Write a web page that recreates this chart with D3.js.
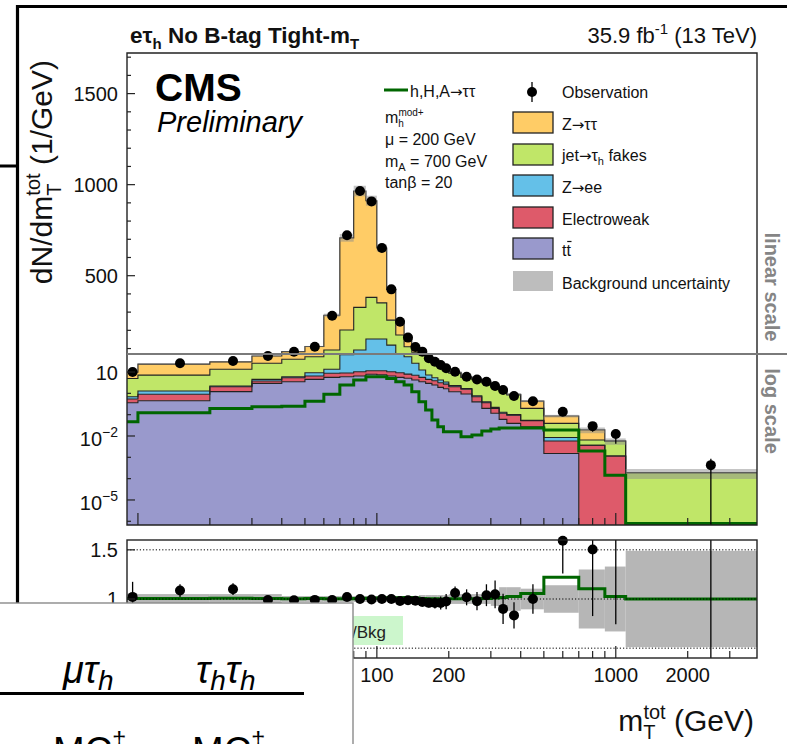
<!DOCTYPE html>
<html>
<head>
<meta charset="utf-8">
<script src="https://cdn.jsdelivr.net/npm/d3@7"></script>
<style>
  body { margin: 0; background: #fff; }
  svg { display: block; }
  text { font-family: "Liberation Sans", Arial, Helvetica, sans-serif; }
</style>
</head>
<body>
<svg id="chart" width="787" height="744"></svg>
<script>
// ---- m_T^tot binning (GeV) and per-GeV yields ----
const binEdges = [9, 10, 20, 30, 40, 50, 60, 70, 80, 90, 100, 110, 120, 130, 140, 150, 160, 170, 180, 190, 200,
                  225, 250, 275, 300, 325, 350, 400, 500, 700, 900, 1100, 3900];

const observed = [10, 25.6, 33, 56, 82, 110, 280, 722, 965, 908, 652, 425, 247, 160, 108, 83, 44, 30.5, 21.3, 15,
                  10.3, 6, 4.5, 3.5, 2.2, 1.43, 0.75, 0.43, 0.137, 0.029, 0.0123, 0.00043];
const observedRelErr = [0.15, 0.06, 0.055, 0.04, 0.035, 0.03, 0.02, 0.012, 0.01, 0.01, 0.012, 0.015, 0.02, 0.025, 0.03,
                  0.035, 0.048, 0.058, 0.07, 0.08, 0.062, 0.08, 0.094, 0.107, 0.135, 0.17, 0.16, 0.15, 0.21, 0.45, 0.65, 1.0];

const ttbar = [0.36, 0.45, 1.2, 2.95, 3.5, 4.5, 5.6, 6.0, 6.5, 7.8, 7.5, 6.5, 5.6, 5.1, 4.2, 3.5, 2.95, 2.45, 1.9, 1.65,
               1.19, 0.93, 0.40, 0.197, 0.116, 0.06, 0.039, 0.027, 0.0015, 0, 0, 0];
const electroweak = [0.18, 0.45, 0.84, 0.85, 1.9, 2.0, 3.1, 3.0, 3.8, 3.7, 4.0, 3.8, 3.7, 2.9, 2.8, 2.1, 1.55, 1.45, 1.25, 1.05,
               0.86, 0.62, 0.29, 0.163, 0.081, 0.056, 0.056, 0.025, 0.0043, 0.0037, 0.00115, 0];
const zee = [0.15, 0.38, 0.16, 0.7, 0.6, 2.8, 4.7, 56, 81.7, 140.5, 140.5, 108.7, 60.7, 44, 18.6, 6.8, 2.7, 1.5, 1.05, 0.7,
               0.25, 0.15, 0.08, 0.04, 0.023, 0.014, 0.005, 0.002, 0.0027, 0, 0, 0];
const fakes = [4.3, 5.9, 11.2, 21.1, 33.5, 42.7, 78.6, 137, 234, 229, 199, 137, 104, 58, 54, 52, 31.7, 22.6, 15.8, 10.5,
               6.6, 3.85, 3.55, 2.77, 1.75, 1.38, 0.75, 0.143, 0.0305, 0.0028, 0.00465, 0.00019];
const ztt = [4.8, 16.4, 16.6, 31, 43.5, 59, 191, 506, 639, 531, 301, 169, 78, 52, 30.4, 21.2, 6.9, 3.8, 2.2, 1.5,
               0.8, 0.35, 0.28, 0.2, 0.13, 0.08, 0.05, 0.233, 0.047, 0.0128, 0, 0];
// h,H,A -> tautau, m_h^mod+ with mu = 200 GeV, m_A = 700 GeV, tan(beta) = 20
const signal = [0.046, 0.123, 0.197, 0.235, 0.25, 0.43, 0.9, 2.45, 4.2, 6.0, 6.0, 5.0, 3.5, 2.45, 1.19, 0.4, 0.165, 0.056, 0.027, 0.0157,
               0.0157, 0.0092, 0.011, 0.017, 0.021, 0.024, 0.024, 0.024, 0.019, 0.002, 0.000146, 0];
// relative background uncertainty
const bkgUnc = [0.05, 0.05, 0.05, 0.05, 0.03, 0.03, 0.03, 0.03, 0.03, 0.03, 0.03, 0.03, 0.03, 0.03, 0.03, 0.04, 0.04, 0.04, 0.04, 0.04,
               0.05, 0.05, 0.05, 0.05, 0.07, 0.12, 0.12, 0.105, 0.14, 0.3, 0.33, 0.49];

const xTickLabels = [100, 200, 1000, 2000];
const yLinTickLabels = [500, 1000, 1500];
const yLogTickLabels = [[10, ""], [1e-2, "\u22122"], [1e-5, "\u22125"]];
const ratioGridLines = [0.5, 1, 1.5];
const ratioTickLabels = [1, 1.5];

// ---- layout ----
const svg = d3.select("#chart");
const L = 127, R = 757;
const linTop = 53, split = 354, logBot = 525, ratTop = 540, ratBot = 658;

const x = d3.scaleLog().domain([binEdges[0], binEdges[binEdges.length - 1]]).range([L, R]);
const yLin = d3.scaleLinear().domain([70, 1723]).range([split, linTop]);
const yLog = d3.scaleLog().domain([6.7e-7, 70]).range([logBot, split]);
const yRat = d3.scaleLinear().domain([0.4, 1.6]).range([ratBot, ratTop]);

const yLinF = v => yLin(Math.max(v, 60));
const yLogF = v => v > 0 ? yLog(Math.min(Math.max(v, 3e-7), 500)) : yLog(3e-7);

const keys = ["ttbar", "electroweak", "zee", "fakes", "ztt"];
const colors = { ttbar: "#9999cc", electroweak: "#de5a6a", zee: "#64c0e8", fakes: "#c0e668", ztt: "#ffcc66" };
const sigColor = "#006600";
const arrowFont = "'DejaVu Sans', sans-serif";

const bins = observed.map((o, i) => ({
  lo: binEdges[i], hi: binEdges[i + 1], obs: o, err: observedRelErr[i],
  ttbar: ttbar[i], electroweak: electroweak[i], zee: zee[i], fakes: fakes[i], ztt: ztt[i],
  sig: signal[i], unc: bkgUnc[i]
}));
const series = d3.stack().keys(keys)(bins);
bins.forEach((b, i) => { b.total = series[series.length - 1][i][1]; });

const defs = svg.append("defs");
function clip(id, x0, y0, w, h) {
  defs.append("clipPath").attr("id", id).append("rect").attr("x", x0).attr("y", y0).attr("width", w).attr("height", h);
  return "url(#" + id + ")";
}
const clipLin = clip("cLin", L, linTop, R - L, split - linTop);
const clipLog = clip("cLog", L, split, R - L, logBot - split);
const clipRat = clip("cRat", L, ratTop, R - L, ratBot - ratTop);

function stepPts(fn) {
  return bins.flatMap((b, i) => [[x(b.lo), ...fn(b, i)], [x(b.hi), ...fn(b, i)]]);
}

// ---- stacked histograms in the linear and log sections ----
function drawStack(yf, clipUrl) {
  const g = svg.append("g").attr("clip-path", clipUrl);
  series.forEach(s => {
    const pts = stepPts((b, i) => [s[i][0], s[i][1]]);
    g.append("path")
      .attr("d", d3.area().x(d => d[0]).y0(d => yf(d[1])).y1(d => yf(d[2]))(pts))
      .attr("fill", colors[s.key]);
  });
  series.forEach(s => {
    const pts = stepPts((b, i) => [s[i][1]]);
    g.append("path")
      .attr("d", d3.line().x(d => d[0]).y(d => yf(d[1]))(pts))
      .attr("fill", "none").attr("stroke", "#222").attr("stroke-width", 1.1);
  });
  // background uncertainty
  g.selectAll(null).data(bins).join("rect")
    .attr("x", b => x(b.lo)).attr("width", b => x(b.hi) - x(b.lo))
    .attr("y", b => yf(b.total * (1 + b.unc)))
    .attr("height", b => Math.max(0, yf(b.total * (1 - b.unc)) - yf(b.total * (1 + b.unc))))
    .attr("fill", "#8c8c8c").attr("fill-opacity", 0.5);
  return g;
}
drawStack(yLinF, clipLin);
const gLog = drawStack(yLogF, clipLog);

// signal line (log section)
gLog.append("path")
  .attr("d", d3.line().x(d => d[0]).y(d => d[1] > 0 ? yLogF(d[1]) : logBot - 1.5)(stepPts(b => [b.sig])))
  .attr("fill", "none").attr("stroke", sigColor).attr("stroke-width", 3);

// observed points
const gErr = svg.append("g");
bins.forEach(b => {
  const lo = b.obs * (1 - b.err), hi = b.obs * (1 + b.err), cx = x((b.lo + b.hi) / 2);
  gErr.append("line").attr("clip-path", clipLog)
    .attr("x1", cx).attr("x2", cx).attr("y1", lo > 0 ? yLogF(lo) : logBot).attr("y2", yLogF(hi))
    .attr("stroke", "#000").attr("stroke-width", 1.3);
  gErr.append("line").attr("clip-path", clipLin)
    .attr("x1", cx).attr("x2", cx).attr("y1", yLinF(lo)).attr("y2", yLinF(hi))
    .attr("stroke", "#000").attr("stroke-width", 1.3);
  gErr.append("circle").attr("cx", cx).attr("cy", b.obs > 70 ? yLin(b.obs) : yLog(b.obs)).attr("r", 5).attr("fill", "#000");
});

// ---- frames & axes of the upper pad ----
const axisCol = "#222";
svg.append("path").attr("d", `M${L},${split}V${linTop}H${R}V${logBot}H${L}V${split}`)
  .attr("fill", "none").attr("stroke", axisCol).attr("stroke-width", 1.4);
svg.append("line").attr("x1", L).attr("x2", 787).attr("y1", split).attr("y2", split)
  .attr("stroke", "#7a7a7a").attr("stroke-width", 2.2);

const ticksG = svg.append("g").attr("stroke", axisCol).attr("stroke-width", 1.2);
d3.range(100, 1800, 100).filter(v => yLin(v) > linTop && yLin(v) < split - 2).forEach(v => {
  const len = v % 500 === 0 ? 8 : 4;
  ticksG.append("line").attr("x1", L).attr("x2", L + len).attr("y1", yLin(v)).attr("y2", yLin(v));
});
d3.range(-6, 2).map(e => Math.pow(10, e)).forEach(v => {
  const major = yLogTickLabels.some(t => Math.abs(Math.log10(t[0]) - Math.log10(v)) < 1e-6);
  ticksG.append("line").attr("x1", L).attr("x2", L + (major ? 8 : 4)).attr("y1", yLog(v)).attr("y2", yLog(v));
});
const xMinor = [];
[10, 100, 1000].forEach(d => d3.range(1, 10).forEach(k => { const v = k * d; if (v >= binEdges[0] && v <= 3900) xMinor.push(v); }));
xMinor.forEach(v => {
  const len = [10, 100, 1000].includes(v) ? 12 : 7;
  ticksG.append("line").attr("x1", x(v)).attr("x2", x(v)).attr("y1", logBot).attr("y2", logBot - len);
  ticksG.append("line").attr("x1", x(v)).attr("x2", x(v)).attr("y1", ratBot).attr("y2", ratBot - len);
});

const lab = svg.append("g").attr("font-size", 20).attr("fill", "#111");
yLinTickLabels.forEach(v => lab.append("text").attr("x", 118).attr("y", yLin(v) + 7).attr("text-anchor", "end").text(v));
yLogTickLabels.forEach(([v, ex]) => {
  const t = lab.append("text").attr("x", 118).attr("y", yLog(v) + (ex ? 10 : 7.5)).attr("text-anchor", "end").text("10");
  if (ex) t.append("tspan").attr("dy", -9).attr("font-size", 14).text(ex);
});
xTickLabels.forEach(v => lab.append("text").attr("x", x(v)).attr("y", 682).attr("text-anchor", "middle").text(v));

// ---- ratio pad ----
const gR = svg.append("g");
gR.append("g").attr("clip-path", clipRat).selectAll("rect").data(bins).join("rect")
  .attr("x", b => x(b.lo)).attr("width", b => x(b.hi) - x(b.lo))
  .attr("y", b => yRat(1 + b.unc)).attr("height", b => yRat(1 - b.unc) - yRat(1 + b.unc))
  .attr("fill", "#b6b6b6");
gR.append("path").attr("clip-path", clipRat)
  .attr("d", d3.line().x(d => d[0]).y(d => yRat(d[1]))(stepPts(b => [1 + b.sig / b.total])))
  .attr("fill", "none").attr("stroke", sigColor).attr("stroke-width", 3);
ratioGridLines.forEach(v => gR.append("line").attr("x1", L).attr("x2", R).attr("y1", yRat(v)).attr("y2", yRat(v))
  .attr("stroke", "#000").attr("stroke-width", 1).attr("stroke-dasharray", "1.2,2"));
bins.forEach(b => {
  const r = b.obs / b.total, cx = x((b.lo + b.hi) / 2);
  gR.append("line").attr("clip-path", clipRat).attr("x1", cx).attr("x2", cx)
    .attr("y1", yRat(Math.max(0, r * (1 - b.err)))).attr("y2", yRat(r * (1 + b.err)))
    .attr("stroke", "#000").attr("stroke-width", 1.3);
  if (r <= 1.6 && r >= 0.4) gR.append("circle").attr("cx", cx).attr("cy", yRat(r)).attr("r", 5).attr("fill", "#000");
});
gR.append("rect").attr("x", L).attr("y", ratTop).attr("width", R - L).attr("height", ratBot - ratTop)
  .attr("fill", "none").attr("stroke", axisCol).attr("stroke-width", 1.4);
ratioGridLines.forEach(v => gR.append("line").attr("x1", L).attr("x2", L + 8).attr("y1", yRat(v)).attr("y2", yRat(v))
  .attr("stroke", axisCol).attr("stroke-width", 1.2));
ratioTickLabels.forEach(v => gR.append("text").attr("x", 118).attr("y", yRat(v) + 7).attr("text-anchor", "end")
  .attr("font-size", 20).attr("fill", "#111").text(v));
gR.append("rect").attr("x", 308).attr("y", 616).attr("width", 95).attr("height", 29).attr("fill", "#ccf6cc");
gR.append("text").attr("x", 386).attr("y", 638).attr("text-anchor", "end").attr("font-size", 17).attr("fill", "#222").text("Obs/Bkg");

// ---- titles ----
const t1 = svg.append("text").attr("x", 130).attr("y", 43).attr("font-size", 22.5).attr("font-weight", "bold").attr("fill", "#111");
t1.append("tspan").text("e\u03c4");
t1.append("tspan").attr("font-size", 15).attr("dy", 6).text("h");
t1.append("tspan").attr("dy", -6).text(" No B-tag Tight-m");
t1.append("tspan").attr("font-size", 15).attr("dy", 6).text("T");
const t2 = svg.append("text").attr("x", 757).attr("y", 43).attr("font-size", 22).attr("text-anchor", "end").attr("fill", "#111");
t2.append("tspan").text("35.9 fb");
t2.append("tspan").attr("font-size", 15).attr("dy", -9).text("-1");
t2.append("tspan").attr("dy", 9).text(" (13 TeV)");

svg.append("text").attr("x", 155).attr("y", 101).attr("font-size", 39).attr("font-weight", "bold").attr("fill", "#000").text("CMS");
svg.append("text").attr("x", 157).attr("y", 132).attr("font-size", 29).attr("font-style", "italic").attr("fill", "#000").text("Preliminary");

const yt = svg.append("text").attr("transform", "translate(52,60) rotate(-90)").attr("text-anchor", "end")
  .attr("font-size", 30).attr("fill", "#111");
yt.append("tspan").text("dN/dm");
yt.append("tspan").attr("font-size", 20).attr("dy", 9).text("T");
yt.append("tspan").attr("font-size", 20).attr("dx", -12).attr("dy", -21).text("tot");
yt.append("tspan").attr("dy", 12).text(" (1/GeV)");

const xt = svg.append("text").attr("x", 754).attr("y", 731).attr("text-anchor", "end").attr("font-size", 30).attr("fill", "#111");
xt.append("tspan").text("m");
xt.append("tspan").attr("font-size", 20).attr("dy", 8).text("T");
xt.append("tspan").attr("font-size", 20).attr("dx", -12).attr("dy", -20).text("tot");
xt.append("tspan").attr("dy", 12).text(" (GeV)");

svg.append("text").attr("transform", "translate(765,287) rotate(90)").attr("text-anchor", "middle")
  .attr("font-size", 20).attr("font-weight", "bold").attr("fill", "#858585").text("linear scale");
svg.append("text").attr("transform", "translate(765,411) rotate(90)").attr("text-anchor", "middle")
  .attr("font-size", 20).attr("font-weight", "bold").attr("fill", "#858585").text("log scale");

// ---- legend ----
const lg = svg.append("g").attr("font-size", 16).attr("fill", "#111");
function arrowLabel(xp, yp, before, after) {
  const t = lg.append("text").attr("x", xp).attr("y", yp);
  t.append("tspan").text(before);
  t.append("tspan").attr("font-family", arrowFont).attr("font-size", 15).text("\u2192");
  t.append("tspan").text(after);
  return t;
}
lg.append("line").attr("x1", 384).attr("x2", 408).attr("y1", 90).attr("y2", 90).attr("stroke", sigColor).attr("stroke-width", 3);
arrowLabel(410, 97, "h,H,A", "\u03c4\u03c4");
const m1 = lg.append("text").attr("x", 385).attr("y", 123);
m1.append("tspan").text("m");
m1.append("tspan").attr("font-size", 10).attr("dy", 4).text("h");
m1.append("tspan").attr("font-size", 10).attr("dx", -5.5).attr("dy", -11).text("mod+");
lg.append("text").attr("x", 385).attr("y", 145).text("\u03bc = 200 GeV");
const m2 = lg.append("text").attr("x", 385).attr("y", 167);
m2.append("tspan").text("m");
m2.append("tspan").attr("font-size", 11).attr("dy", 4).text("A");
m2.append("tspan").attr("dy", -4).text(" = 700 GeV");
lg.append("text").attr("x", 385).attr("y", 188).text("tan\u03b2 = 20");

lg.append("line").attr("x1", 532).attr("x2", 532).attr("y1", 82).attr("y2", 102).attr("stroke", "#000").attr("stroke-width", 1.3);
lg.append("circle").attr("cx", 532).attr("cy", 92).attr("r", 5).attr("fill", "#000");
lg.append("text").attr("x", 562).attr("y", 98).text("Observation");

const legendRows = [
  { key: "ztt", y: 112 }, { key: "fakes", y: 144 }, { key: "zee", y: 175 },
  { key: "electroweak", y: 207 }, { key: "ttbar", y: 238 }
];
legendRows.forEach(r => lg.append("rect").attr("x", 513).attr("y", r.y).attr("width", 40).attr("height", 21)
  .attr("fill", colors[r.key]).attr("stroke", "#222").attr("stroke-width", 1.3));
lg.append("rect").attr("x", 513).attr("y", 271).attr("width", 40).attr("height", 20).attr("fill", "#bdbdbd");
arrowLabel(562, 130, "Z", "\u03c4\u03c4");
const jf = arrowLabel(562, 161, "jet", "\u03c4");
jf.append("tspan").attr("font-size", 11).attr("dy", 4).text("h");
jf.append("tspan").attr("dy", -4).text(" fakes");
arrowLabel(562, 193, "Z", "ee");
lg.append("text").attr("x", 562).attr("y", 225).text("Electroweak");
lg.append("text").attr("x", 562).attr("y", 256).text("tt");
lg.append("line").attr("x1", 567.2).attr("x2", 571.5).attr("y1", 241.5).attr("y2", 241.5).attr("stroke", "#111").attr("stroke-width", 1.2);
lg.append("text").attr("x", 562).attr("y", 289).text("Background uncertainty");

// ---- page frame and the table page lying over the lower-left corner ----
svg.append("path").attr("d", "M16,6.5H787M17.5,5V603M0,166H19")
  .attr("fill", "none").attr("stroke", "#000").attr("stroke-width", 3.2);
const sheet = svg.append("g");
sheet.append("rect").attr("x", -2).attr("y", 603).attr("width", 355).attr("height", 150)
  .attr("fill", "#fff").attr("stroke", "#8a8a8a").attr("stroke-width", 1.4);
const serif = "'Liberation Serif', 'DejaVu Serif', serif";
const c1 = sheet.append("text").attr("x", 63).attr("y", 683).attr("font-family", serif).attr("font-size", 38).attr("font-style", "italic").attr("fill", "#000");
c1.append("tspan").text("\u03bc\u03c4");
c1.append("tspan").attr("font-size", 28).attr("dy", 7).text("h");
const c2 = sheet.append("text").attr("x", 196).attr("y", 683).attr("font-family", serif).attr("font-size", 38).attr("font-style", "italic").attr("fill", "#000");
c2.append("tspan").text("\u03c4");
c2.append("tspan").attr("font-size", 28).attr("dy", 7).text("h");
c2.append("tspan").attr("dy", -7).text("\u03c4");
c2.append("tspan").attr("font-size", 28).attr("dy", 7).text("h");
sheet.append("line").attr("x1", 0).attr("x2", 304).attr("y1", 693.5).attr("y2", 693.5).attr("stroke", "#000").attr("stroke-width", 3);
[53, 192].forEach(x0 => {
  const m = sheet.append("text").attr("x", x0).attr("y", 764).attr("font-family", serif).attr("font-size", 38).attr("fill", "#000");
  m.append("tspan").text("MC");
  m.append("tspan").attr("font-size", 26).attr("dy", -14).text("\u2021");
});
</script>
</body>
</html>
